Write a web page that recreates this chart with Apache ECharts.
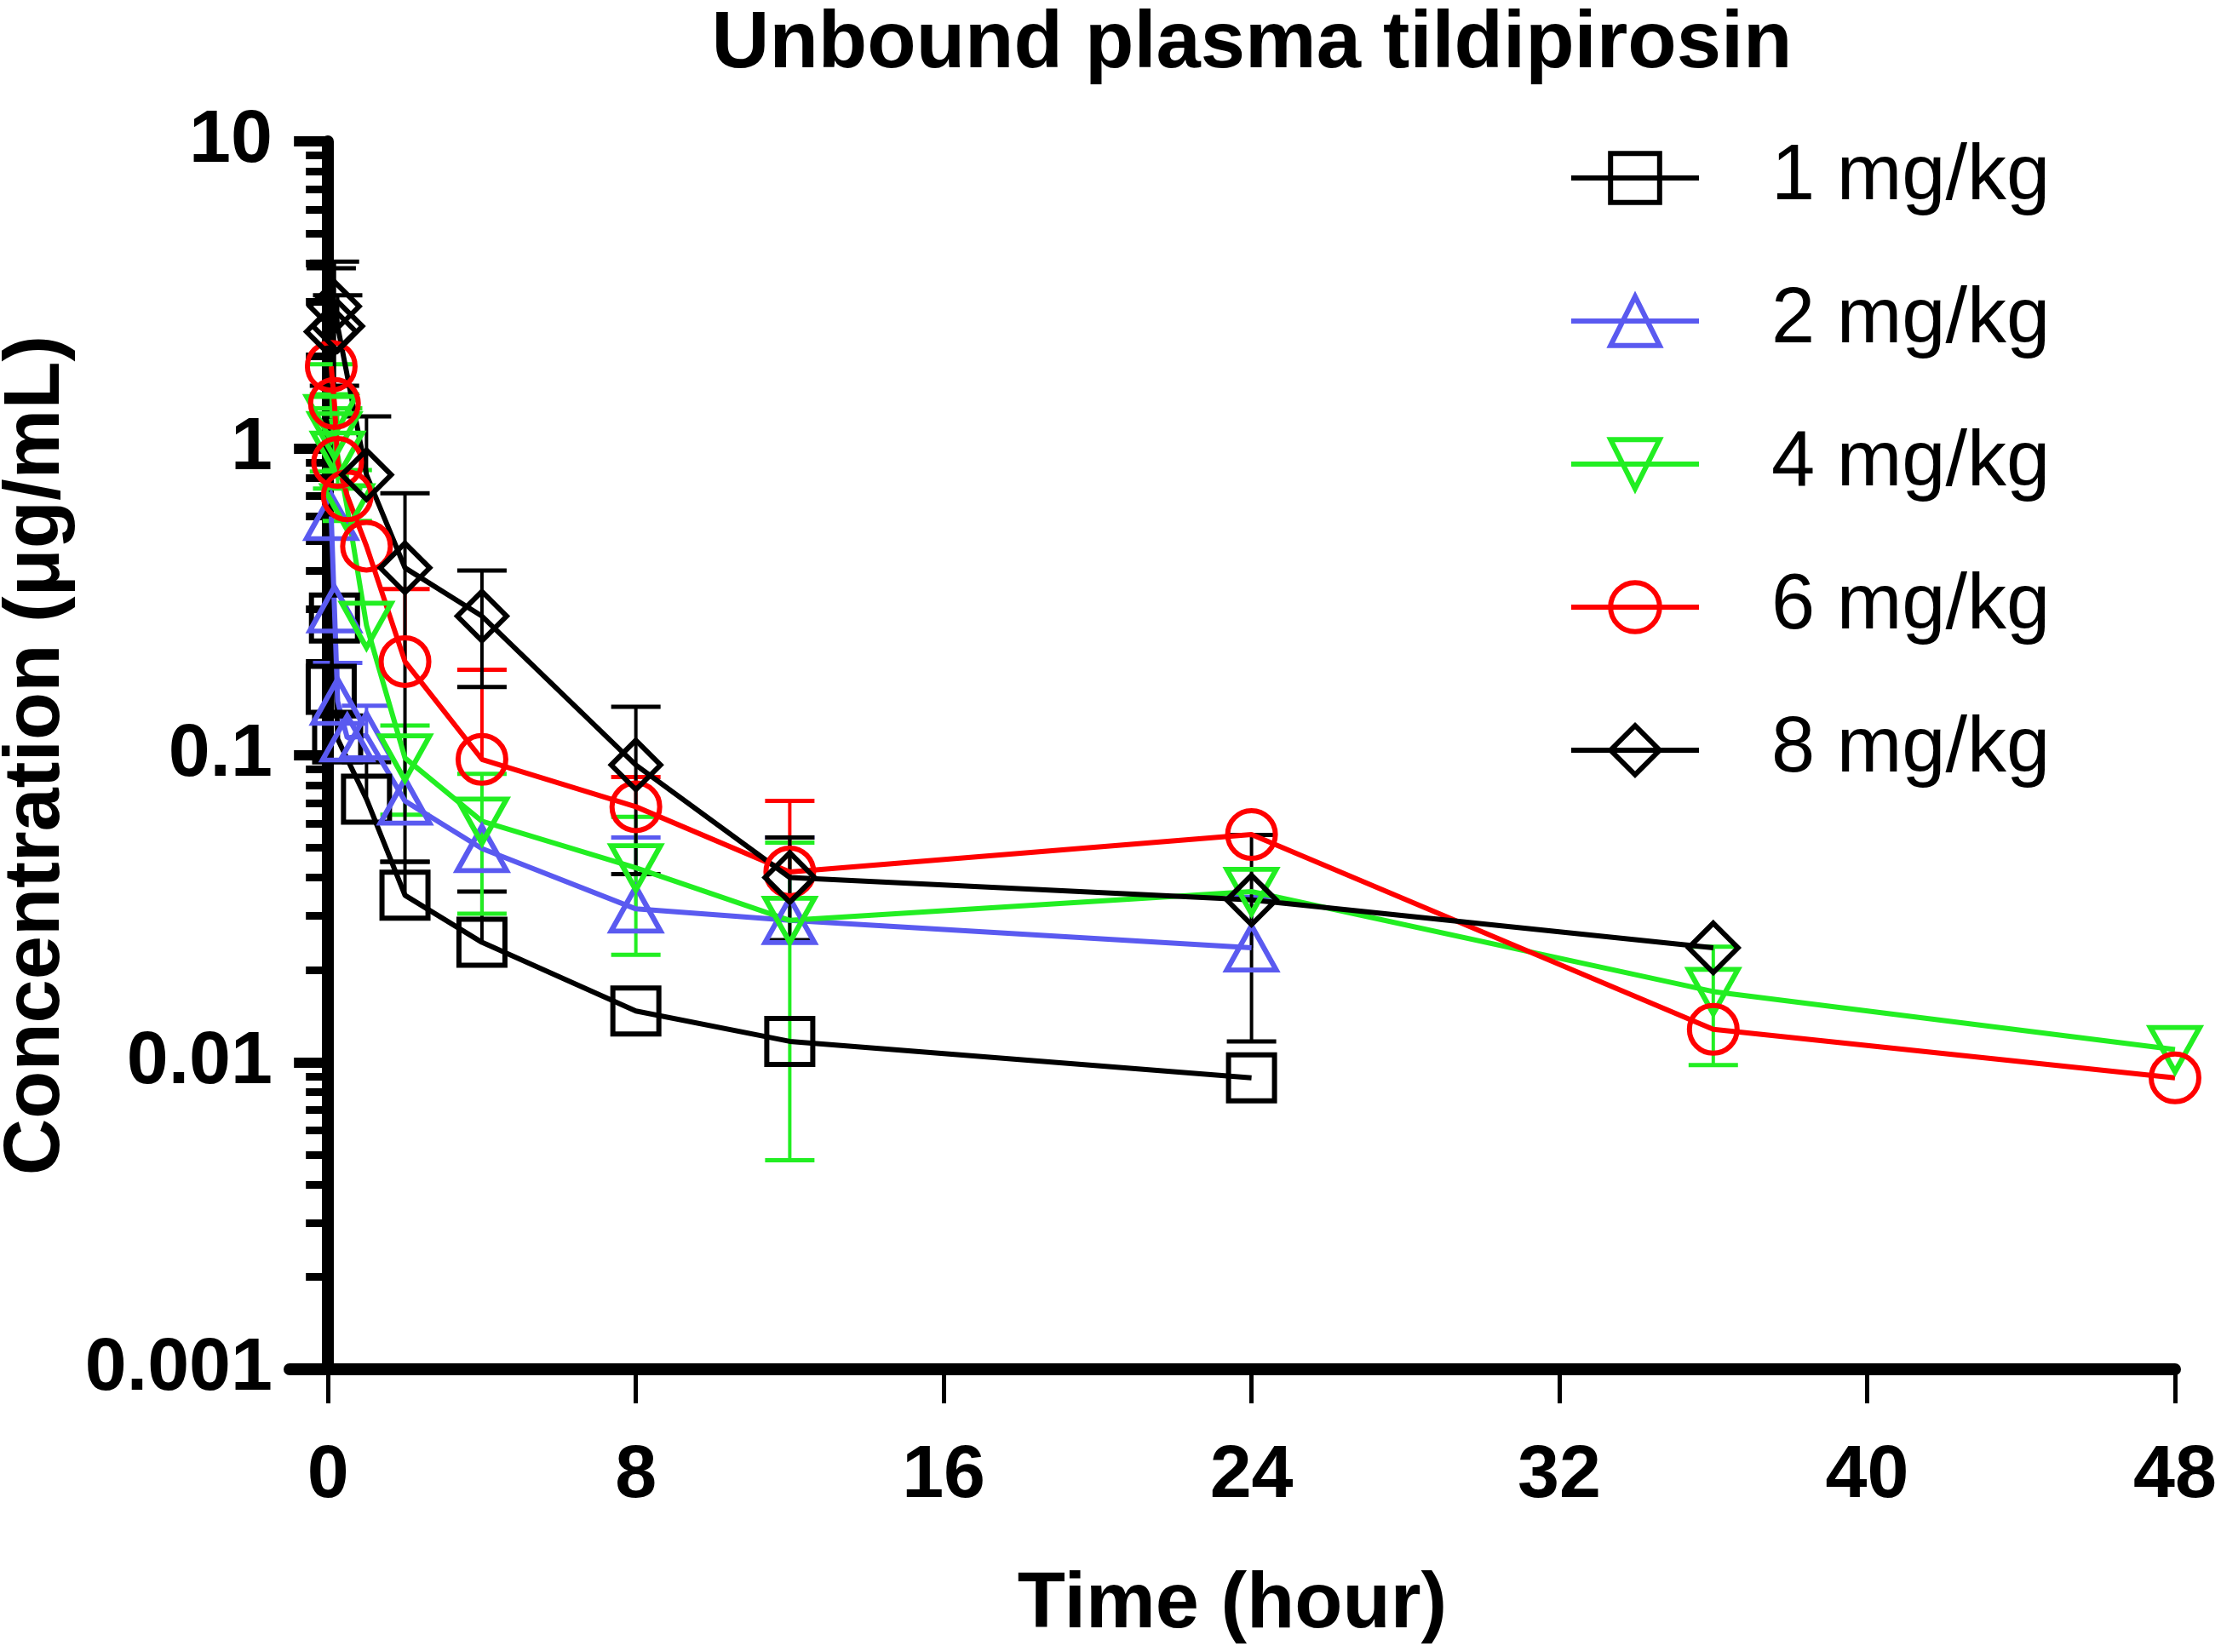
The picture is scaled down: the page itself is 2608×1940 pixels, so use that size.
<!DOCTYPE html>
<html lang="en">
<head>
<meta charset="UTF-8">
<script src="https://cdn.jsdelivr.net/npm/echarts@6/dist/echarts.min.js"></script>
<title>Unbound plasma tildipirosin</title>
<style>
  html, body { margin: 0; padding: 0; background: #fff; }
  #main { width: 2608px; height: 1940px; }
</style>
</head>
<body>
<div id="main"></div>
<script type="text/javascript">
// tick values
var xTicks = [0, 8, 16, 24, 32, 40, 48];
var yMajor = [0.001, 0.01, 0.1, 1, 10];
var yMinor = [0.002, 0.003, 0.004, 0.005, 0.006, 0.007, 0.008, 0.009,
              0.02, 0.03, 0.04, 0.05, 0.06, 0.07, 0.08, 0.09,
              0.2, 0.3, 0.4, 0.5, 0.6, 0.7, 0.8, 0.9,
              2, 3, 4, 5, 6, 7, 8, 9];

var doseNames = ['1 mg/kg', '2 mg/kg', '4 mg/kg', '6 mg/kg', '8 mg/kg'];

// time (hour), mean concentration, and the ends of the SD bars (null = no bar)
var t1  = [0.083, 0.167, 0.25, 1, 2, 4, 8, 12, 24];
var c1  = [0.164, 0.28, 0.113, 0.072, 0.035, 0.0246, 0.0147, 0.0117, 0.0089];
var hi1 = [null, null, null, 0.095, 0.045, 0.036, null, null, null];
var lo1 = [null, null, null, null, null, null, null, null, null];

var t2  = [0.083, 0.167, 0.25, 0.5, 1, 2, 4, 8, 12, 24];
var c2  = [0.60, 0.30, 0.15, 0.114, 0.116, 0.071, 0.0497, 0.0316, 0.029, 0.0236];
var hi2 = [null, null, 0.20, null, 0.145, null, null, 0.054, 0.054, 0.0346];
var lo2 = [null, null, null, null, null, null, null, null, null, null];

var t4  = [0.083, 0.167, 0.25, 0.5, 1, 2, 4, 8, 12, 24, 36, 48];
var c4  = [1.25, 1.1, 0.95, 0.64, 0.265, 0.098, 0.061, 0.043, 0.029, 0.036, 0.017, 0.011];
var hi4 = [1.88, 1.5, 1.35, 0.85, null, 0.125, 0.087, 0.063, 0.052, null, 0.0238, null];
var lo4 = [null, 0.84, 0.74, 0.58, null, 0.064, 0.0305, 0.0224, 0.0048, null, 0.0098, null];

var t6  = [0.083, 0.167, 0.25, 0.5, 1, 2, 4, 8, 12, 24, 36, 48];
var c6  = [1.85, 1.4, 0.9, 0.70, 0.48, 0.202, 0.097, 0.068, 0.0417, 0.0552, 0.0128, 0.0089];
var hi6 = [null, null, null, null, null, 0.348, 0.19, 0.085, 0.071, null, null, null];
var lo6 = [null, null, null, null, null, null, null, null, null, null, null, null];

var t8  = [0.083, 0.167, 0.25, 1, 2, 4, 8, 12, 24, 36];
var c8  = [2.4, 2.9, 2.5, 0.82, 0.408, 0.284, 0.093, 0.040, 0.0338, 0.0236];
var hi8 = [3.86, 4.06, 3.15, 1.27, 0.714, 0.40, 0.144, 0.054, 0.055, null];
var lo8 = [null, 1.6, null, null, 0.045, 0.167, 0.041, 0.025, 0.0117, null];

var doseColors = ['#000000', '#5a5af0', '#22ee22', '#ff0000', '#000000'];
var doseSymbols = ['rect', 'triangle', 'triangle', 'circle', 'diamond'];
var doseRotate = [0, 0, 180, 0, 0];
var doseSizes = [[54, 54], [58, 52], [58, 52], [56, 56], [58, 58]];

var times = [t1, t2, t4, t6, t8];
var means = [c1, c2, c4, c6, c8];
var highs = [hi1, hi2, hi4, hi6, hi8];
var lows  = [lo1, lo2, lo4, lo6, lo8];

var font = 'Liberation Sans, Arial, sans-serif';

function errorBar(color) {
    return function (params, api) {
        var x = api.value(0), m = api.value(1);
        var pm = api.coord([x, m]);
        var half = 29;
        var kids = [];
        [api.value(2), api.value(3)].forEach(function (b) {
            if (b === m) return;
            var pb = api.coord([x, b]);
            kids.push({ type: 'line', shape: { x1: pm[0], y1: pm[1], x2: pb[0], y2: pb[1] },
                        style: { stroke: color, lineWidth: 4 } });
            kids.push({ type: 'line', shape: { x1: pb[0] - half, y1: pb[1], x2: pb[0] + half, y2: pb[1] },
                        style: { stroke: color, lineWidth: 5 } });
        });
        return { type: 'group', children: kids };
    };
}

var series = [];
doseNames.forEach(function (name, i) {
    var pts = times[i].map(function (t, j) { return [t, means[i][j]]; });
    var bars = times[i].map(function (t, j) {
        var m = means[i][j];
        var lo = lows[i][j] == null ? m : lows[i][j];
        var hi = highs[i][j] == null ? m : highs[i][j];
        return [t, m, lo, hi];
    });
    series.push({
        name: name + ' SD',
        type: 'custom',
        renderItem: errorBar(doseColors[i]),
        data: bars,
        encode: { x: 0, y: [1, 2, 3] },
        z: 2,
        silent: true
    });
    series.push({
        name: name,
        type: 'line',
        data: pts,
        symbol: doseSymbols[i],
        symbolSize: doseSizes[i],
        symbolRotate: doseRotate[i],
        showAllSymbol: true,
        itemStyle: { color: 'transparent', borderColor: doseColors[i], borderWidth: 6 },
        lineStyle: { color: doseColors[i], width: 6 },
        z: 3
    });
});

var myChart = echarts.init(document.getElementById('main'));

var option = {
    animation: false,
    backgroundColor: '#fff',
    graphic: [{
        type: 'text',
        x: 1470,
        y: 6,
        style: {
            text: 'Unbound plasma tildipirosin',
            font: 'bold 94px ' + font,
            fill: '#000',
            textAlign: 'center',
            textVerticalAlign: 'top'
        }
    }],
    legend: {
        orient: 'vertical',
        left: 1837,
        top: 158,
        itemWidth: 150,
        itemHeight: 72,
        itemGap: 76,
        data: doseNames,
        itemStyle: { borderWidth: 6 },
        lineStyle: { width: 6 },
        textStyle: { fontSize: 92, fontFamily: font, color: '#000', padding: [0, 0, 0, 80] }
    },
    grid: { left: 340, right: 54, top: 166, bottom: 332, outerBoundsMode: 'none' },
    xAxis: [{
        type: 'value',
        min: -1,
        max: 48,
        axisLine: { onZero: false, lineStyle: { color: '#000', width: 14 } },
        axisTick: { customValues: xTicks, length: 40, lineStyle: { color: '#000', width: 5 } },
        axisLabel: { customValues: xTicks, fontSize: 88, fontWeight: 'bold', fontFamily: font, color: '#000', margin: 82 },
        splitLine: { show: false },
        name: 'Time (hour)',
        nameLocation: 'middle',
        nameGap: 232,
        nameTextStyle: { fontSize: 92, fontWeight: 'bold', fontFamily: font, color: '#000' }
    }, {
        // hidden twin, only gives the minor-tick axis its own x = 0 to sit on
        type: 'value',
        min: -1,
        max: 48,
        show: false
    }],
    yAxis: [{
        type: 'log',
        logBase: 10,
        min: 0.001,
        max: 10,
        position: 'left',
        axisLine: { show: true, onZero: true, onZeroAxisIndex: 0, lineStyle: { color: '#000', width: 14 } },
        axisTick: { customValues: yMajor, length: 40, lineStyle: { color: '#000', width: 12 } },
        axisLabel: {
            customValues: yMajor,
            formatter: function (v) { return String(parseFloat(v.toPrecision(6))); },
            fontSize: 88, fontWeight: 'bold', fontFamily: font, color: '#000', margin: 20
        },
        splitLine: { show: false },
        name: 'Concentration (\u03bcg/mL)',
        nameLocation: 'middle',
        nameGap: 250,
        nameMoveOverlap: false,
        nameTextStyle: { fontSize: 92, fontWeight: 'bold', fontFamily: font, color: '#000' }
    }, {
        type: 'log',
        logBase: 10,
        min: 0.001,
        max: 10,
        position: 'left',
        axisLine: { show: true, onZero: true, onZeroAxisIndex: 1, lineStyle: { color: '#000', width: 14, opacity: 0 } },
        axisTick: { customValues: yMinor, length: 26, lineStyle: { color: '#000', width: 9 } },
        axisLabel: { show: false },
        splitLine: { show: false }
    }],
    series: series
};

myChart.setOption(option);
</script>
</body>
</html>
